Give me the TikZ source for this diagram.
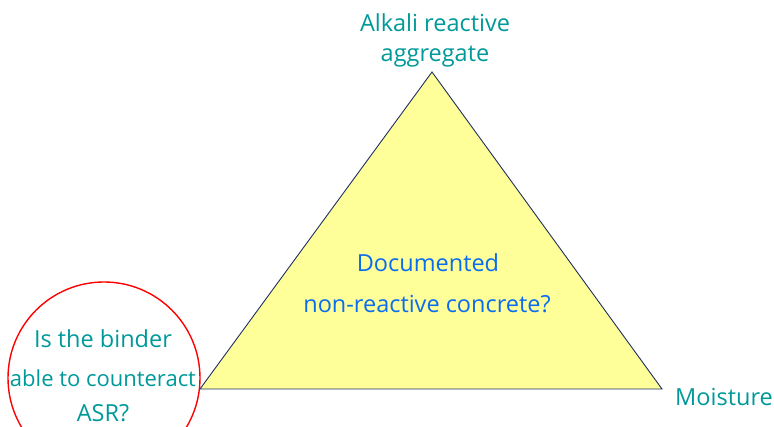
\documentclass[tikz,border=0pt]{standalone}
\usepackage{fontspec}
\setmainfont{Open Sans}
\definecolor{teal1}{HTML}{009999}
\definecolor{blue1}{HTML}{0A6CF0}
\definecolor{tri}{HTML}{FFFF99}
\definecolor{triedge}{HTML}{1F3060}
\begin{document}
\begin{tikzpicture}[x=1pt,y=1pt,
  lbl/.style={font=\fontsize{23.5}{28}\selectfont, inner sep=0pt, anchor=base},
  tlbl/.style={lbl, text=teal1},
  blbl/.style={lbl, text=blue1}]
\useasboundingbox (0,0) rectangle (774,427);
\begin{scope}
\clip (0,0) rectangle (774,427);
\coordinate (A) at (432,355);
\coordinate (B) at (200,38);
\coordinate (C) at (662,38);
\path[fill=tri, draw=triedge, line width=0.9pt, line join=miter] (A) -- (B) -- (C) -- cycle;
\node[draw=red, line width=1.4pt, circle, minimum size=192pt, inner sep=0pt] (circ) at (104,49) {};
\end{scope}
\node[tlbl] (top1) at (435,395) {Alkali reactive};
\node[tlbl] (top2) at (435,365) {aggregate};
\node[blbl] (mid1) at (428,155) {Documented};
\node[blbl] (mid2) at (427,114) {non-reactive concrete?};
\node[tlbl] (b1) at (103,79) {Is the binder};
\node[tlbl, font=\fontsize{22}{26}\selectfont] (b2) at (103,40) {able to counteract};
\node[tlbl] (b3) at (103,5) {ASR?};
\node[tlbl, anchor=base east] (moist) at (773,21) {Moisture};
\end{tikzpicture}
\end{document}
